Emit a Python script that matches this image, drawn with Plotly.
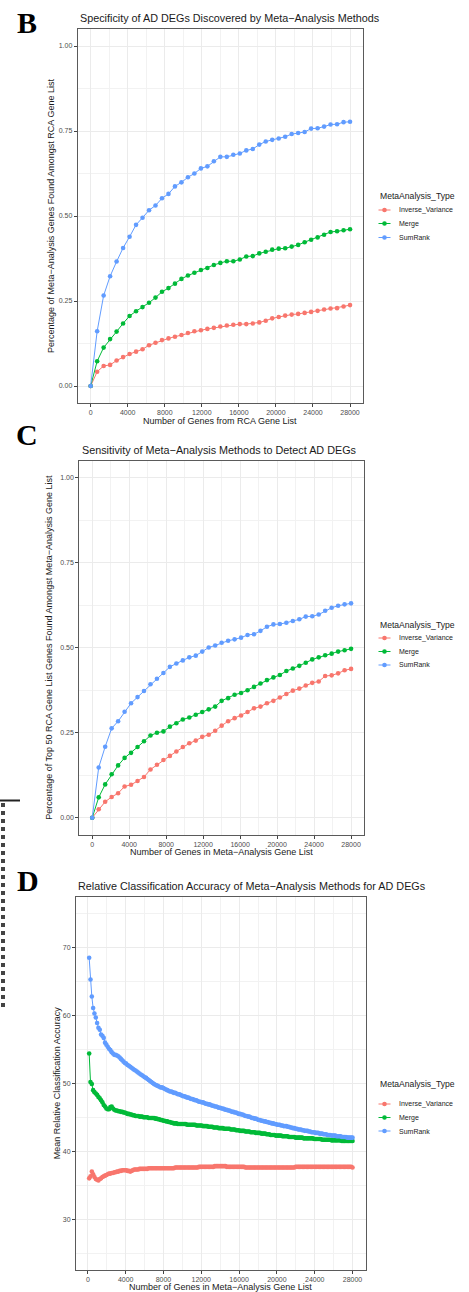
import plotly.graph_objects as go

# ---------------------------------------------------------------- data
methods = ["Inverse_Variance", "Merge", "SumRank"]
colors = ["#F8766D", "#00BA38", "#619CFF"]

# Panel B: specificity vs number of genes taken from the RCA list
genes_rca = list(range(0, 28001, 700))
spec_inverse_variance = [
    0.000, 0.042, 0.059, 0.062, 0.075, 0.085, 0.094, 0.101, 0.108, 0.120,
    0.127, 0.135, 0.140, 0.145, 0.150, 0.156, 0.161, 0.164, 0.168, 0.171,
    0.175, 0.178, 0.180, 0.182, 0.182, 0.184, 0.187, 0.192, 0.199, 0.203,
    0.207, 0.210, 0.212, 0.215, 0.218, 0.221, 0.225, 0.228, 0.229, 0.234,
    0.238]
spec_merge = [
    0.000, 0.073, 0.113, 0.138, 0.160, 0.184, 0.206, 0.220, 0.232, 0.245,
    0.260, 0.277, 0.288, 0.301, 0.315, 0.325, 0.333, 0.341, 0.347, 0.356,
    0.362, 0.367, 0.367, 0.372, 0.381, 0.382, 0.390, 0.395, 0.401, 0.404,
    0.405, 0.410, 0.415, 0.423, 0.430, 0.437, 0.445, 0.453, 0.455, 0.458,
    0.461]
spec_sumrank = [
    0.000, 0.161, 0.266, 0.323, 0.366, 0.406, 0.439, 0.474, 0.495, 0.517,
    0.531, 0.552, 0.565, 0.587, 0.599, 0.614, 0.625, 0.640, 0.646, 0.661,
    0.674, 0.674, 0.680, 0.684, 0.693, 0.697, 0.710, 0.719, 0.724, 0.728,
    0.733, 0.741, 0.744, 0.747, 0.757, 0.758, 0.763, 0.769, 0.770, 0.776,
    0.777]

# Panel C: sensitivity vs number of genes in the meta-analysis list
genes_meta = list(range(0, 28001, 700))
sens_inverse_variance = [
    0.000, 0.025, 0.047, 0.061, 0.072, 0.092, 0.097, 0.108, 0.120, 0.142,
    0.156, 0.170, 0.182, 0.195, 0.208, 0.219, 0.227, 0.238, 0.244, 0.256,
    0.271, 0.284, 0.293, 0.301, 0.311, 0.322, 0.327, 0.337, 0.344, 0.354,
    0.364, 0.374, 0.380, 0.389, 0.397, 0.401, 0.417, 0.419, 0.425, 0.434,
    0.438]
sens_merge = [
    0.000, 0.060, 0.098, 0.128, 0.154, 0.176, 0.191, 0.208, 0.225, 0.242,
    0.250, 0.254, 0.268, 0.278, 0.289, 0.295, 0.303, 0.311, 0.319, 0.327,
    0.344, 0.352, 0.362, 0.367, 0.375, 0.385, 0.395, 0.405, 0.413, 0.420,
    0.432, 0.439, 0.447, 0.456, 0.466, 0.472, 0.478, 0.483, 0.489, 0.493,
    0.497]
sens_sumrank = [
    0.000, 0.148, 0.209, 0.263, 0.284, 0.312, 0.337, 0.355, 0.373, 0.393,
    0.409, 0.426, 0.444, 0.454, 0.463, 0.472, 0.477, 0.489, 0.501, 0.507,
    0.515, 0.521, 0.525, 0.530, 0.538, 0.540, 0.550, 0.562, 0.569, 0.570,
    0.574, 0.579, 0.584, 0.592, 0.593, 0.598, 0.609, 0.618, 0.624, 0.628,
    0.631]

# Panel D: mean relative classification accuracy
genes_acc = list(range(140, 28001, 140))
acc_inverse_variance = [
    36.0, 36.3, 37.0, 36.6, 36.2, 35.9, 35.8, 35.7, 35.9, 36.0,
    36.2, 36.3, 36.4, 36.5, 36.6, 36.7, 36.7, 36.8, 36.8, 36.9,
    36.9, 37.0, 37.0, 37.1, 37.1, 37.2, 37.2, 37.2, 37.2, 37.1,
    37.1, 37.0, 37.1, 37.2, 37.3, 37.3, 37.3, 37.3, 37.4, 37.4,
    37.4, 37.4, 37.4, 37.4, 37.4, 37.5, 37.5, 37.5, 37.5, 37.5,
    37.5, 37.5, 37.5, 37.5, 37.5, 37.5, 37.5, 37.5, 37.5, 37.5,
    37.5, 37.5, 37.5, 37.5, 37.5, 37.6, 37.6, 37.6, 37.6, 37.6,
    37.6, 37.6, 37.6, 37.6, 37.6, 37.6, 37.6, 37.6, 37.6, 37.6,
    37.6, 37.6, 37.6, 37.7, 37.7, 37.7, 37.7, 37.7, 37.7, 37.7,
    37.7, 37.7, 37.7, 37.7, 37.7, 37.8, 37.8, 37.8, 37.8, 37.8,
    37.8, 37.8, 37.8, 37.8, 37.7, 37.7, 37.7, 37.7, 37.7, 37.7,
    37.7, 37.7, 37.7, 37.7, 37.7, 37.7, 37.7, 37.7, 37.6, 37.6,
    37.6, 37.6, 37.6, 37.6, 37.6, 37.6, 37.6, 37.6, 37.6, 37.6,
    37.6, 37.6, 37.6, 37.6, 37.6, 37.6, 37.6, 37.6, 37.6, 37.6,
    37.6, 37.6, 37.6, 37.6, 37.6, 37.6, 37.6, 37.6, 37.6, 37.6,
    37.6, 37.6, 37.6, 37.6, 37.6, 37.6, 37.7, 37.7, 37.7, 37.7,
    37.7, 37.7, 37.7, 37.7, 37.7, 37.7, 37.7, 37.7, 37.7, 37.7,
    37.7, 37.7, 37.7, 37.7, 37.7, 37.7, 37.7, 37.7, 37.7, 37.7,
    37.7, 37.7, 37.7, 37.7, 37.7, 37.7, 37.7, 37.7, 37.7, 37.7,
    37.7, 37.7, 37.7, 37.7, 37.7, 37.7, 37.7, 37.7, 37.7, 37.6]
acc_merge = [
    54.4, 50.2, 49.9, 49.0, 48.7, 48.5, 48.3, 48.0, 47.8, 47.5,
    47.2, 46.8, 46.6, 46.3, 46.2, 46.2, 46.5, 46.6, 46.3, 46.1,
    46.0, 46.0, 45.9, 45.9, 45.8, 45.8, 45.7, 45.7, 45.6, 45.5,
    45.5, 45.4, 45.4, 45.3, 45.3, 45.2, 45.2, 45.2, 45.1, 45.1,
    45.1, 45.0, 45.0, 45.0, 45.0, 44.9, 44.9, 44.9, 44.9, 44.9,
    44.8, 44.8, 44.7, 44.7, 44.6, 44.6, 44.5, 44.5, 44.4, 44.4,
    44.3, 44.3, 44.2, 44.2, 44.1, 44.1, 44.1, 44.0, 44.0, 44.0,
    44.0, 44.0, 44.0, 44.0, 43.9, 43.9, 43.9, 43.9, 43.9, 43.9,
    43.9, 43.8, 43.8, 43.8, 43.8, 43.8, 43.7, 43.7, 43.7, 43.7,
    43.6, 43.6, 43.6, 43.6, 43.5, 43.5, 43.5, 43.5, 43.4, 43.4,
    43.4, 43.4, 43.3, 43.3, 43.3, 43.3, 43.3, 43.2, 43.2, 43.2,
    43.2, 43.1, 43.1, 43.1, 43.0, 43.0, 43.0, 43.0, 42.9, 42.9,
    42.9, 42.9, 42.8, 42.8, 42.8, 42.8, 42.7, 42.7, 42.7, 42.7,
    42.6, 42.6, 42.6, 42.6, 42.5, 42.5, 42.5, 42.4, 42.4, 42.4,
    42.4, 42.3, 42.3, 42.3, 42.3, 42.3, 42.2, 42.2, 42.2, 42.2,
    42.2, 42.1, 42.1, 42.1, 42.1, 42.1, 42.0, 42.0, 42.0, 42.0,
    42.0, 42.0, 41.9, 41.9, 41.9, 41.9, 41.9, 41.9, 41.9, 41.9,
    41.8, 41.8, 41.8, 41.8, 41.8, 41.8, 41.7, 41.7, 41.7, 41.7,
    41.7, 41.7, 41.7, 41.6, 41.6, 41.6, 41.6, 41.6, 41.6, 41.6,
    41.6, 41.5, 41.5, 41.5, 41.5, 41.5, 41.5, 41.5, 41.5, 41.5]
acc_sumrank = [
    68.5, 65.3, 62.8, 61.1, 60.3, 59.7, 58.9, 58.2, 57.9, 57.2,
    57.0, 56.7, 56.0, 55.7, 55.4, 55.1, 54.9, 54.6, 54.4, 54.2,
    54.2, 54.1, 54.0, 53.8, 53.6, 53.4, 53.2, 53.0, 52.9, 52.7,
    52.6, 52.45, 52.3, 52.15, 52.0, 51.9, 51.75, 51.6, 51.45, 51.3,
    51.2, 51.05, 50.9, 50.8, 50.65, 50.5, 50.35, 50.2, 50.05, 49.9,
    49.8, 49.7, 49.6, 49.5, 49.4, 49.4, 49.3, 49.2, 49.1, 49.0,
    48.9, 48.8, 48.8, 48.7, 48.6, 48.6, 48.5, 48.4, 48.4, 48.3,
    48.2, 48.1, 48.1, 48.0, 47.9, 47.9, 47.8, 47.7, 47.7, 47.6,
    47.5, 47.5, 47.4, 47.3, 47.3, 47.2, 47.2, 47.1, 47.0, 47.0,
    46.9, 46.9, 46.8, 46.7, 46.7, 46.6, 46.6, 46.5, 46.4, 46.4,
    46.3, 46.3, 46.2, 46.1, 46.1, 46.0, 46.0, 45.9, 45.8, 45.8,
    45.7, 45.7, 45.6, 45.5, 45.5, 45.4, 45.4, 45.3, 45.2, 45.2,
    45.1, 45.1, 45.0, 44.9, 44.9, 44.8, 44.8, 44.7, 44.6, 44.6,
    44.5, 44.5, 44.4, 44.4, 44.3, 44.3, 44.2, 44.2, 44.1, 44.1,
    44.0, 44.0, 43.9, 43.9, 43.9, 43.8, 43.8, 43.7, 43.7, 43.7,
    43.6, 43.6, 43.5, 43.5, 43.4, 43.4, 43.3, 43.3, 43.2, 43.2,
    43.2, 43.1, 43.1, 43.0, 43.0, 43.0, 42.9, 42.9, 42.8, 42.8,
    42.8, 42.7, 42.7, 42.7, 42.6, 42.6, 42.6, 42.5, 42.5, 42.5,
    42.4, 42.4, 42.4, 42.3, 42.3, 42.3, 42.3, 42.2, 42.2, 42.2,
    42.2, 42.1, 42.1, 42.1, 42.1, 42.0, 42.0, 42.0, 42.0, 42.0]

pct_ticks = [0, 0.25, 0.5, 0.75, 1.0]
pct_labels = ["0.00", "0.25", "0.50", "0.75", "1.00"]
acc_ticks = [30, 40, 50, 60, 70]
gene_ticks = [0, 4000, 8000, 12000, 16000, 20000, 24000, 28000]

panel_letters = ["B", "C", "D"]
titles = [
    "Specificity of AD DEGs Discovered by Meta\u2212Analysis Methods",
    "Sensitivity of Meta\u2212Analysis Methods to Detect AD DEGs",
    "Relative Classification Accuracy of Meta\u2212Analysis Methods for AD DEGs",
]
x_titles = [
    "Number of Genes from RCA Gene List",
    "Number of Genes in Meta\u2212Analysis Gene List",
    "Number of Genes in Meta\u2212Analysis Gene List",
]
y_titles = [
    "Percentage of Meta\u2212Analysis Genes Found Amongst RCA Gene List",
    "Percentage of Top 50 RCA Gene List Genes Found Amongst Meta\u2212Analysis Gene List",
    "Mean Relative Classification Accuracy",
]
legend_title = "MetaAnalysis_Type"

# ---------------------------------------------------------------- layout helpers
W, H = 469, 1292
FONT = "Liberation Sans, Arial, Helvetica, sans-serif"


def px_x(v):
    return v / W


def px_y(v):
    return 1 - v / H


# panel boxes in pixels: (left, right, top, bottom)
boxes = [
    (77.7, 363.0, 29.0, 403.0),
    (79.3, 364.0, 461.0, 834.7),
    (76.0, 365.7, 896.7, 1270.0),
]

fig = go.Figure()

panel_series = [
    (genes_rca, [spec_inverse_variance, spec_merge, spec_sumrank]),
    (genes_meta, [sens_inverse_variance, sens_merge, sens_sumrank]),
    (genes_acc, [acc_inverse_variance, acc_merge, acc_sumrank]),
]

MARKER = 4.6

for p, (xs, ys_list) in enumerate(panel_series):
    suffix = "" if p == 0 else str(p + 1)
    for name, col, ys in zip(methods, colors, ys_list):
        fig.add_trace(go.Scatter(
            x=xs, y=ys, name=name, mode="lines+markers",
            line=dict(color=col, width=1),
            marker=dict(color=col, size=MARKER),
            xaxis="x" + suffix, yaxis="y" + suffix,
            showlegend=False,
        ))

axis_common = dict(
    showline=True, linecolor="#5a5a5a", linewidth=1, mirror=True,
    ticks="outside", ticklen=3, tickwidth=1, tickcolor="#444444",
    tickfont=dict(family=FONT, size=7, color="#4D4D4D"),
    showgrid=True, gridcolor="#EBEBEB", gridwidth=1, zeroline=False,
    layer="above traces",
)

layout = dict(
    width=W, height=H, margin=dict(l=0, r=0, t=0, b=0),
    paper_bgcolor="white", plot_bgcolor="white",
    font=dict(family=FONT, color="#1a1a1a"),
    showlegend=False,
)

for p, (l, r, t, b) in enumerate(boxes):
    suffix = "" if p == 0 else str(p + 1)
    xs = panel_series[p][0]
    span = max(xs) - min(xs)
    xr = [min(xs) - 0.05 * span, max(xs) + 0.05 * span]
    xa = dict(axis_common, domain=[px_x(l), px_x(r)], range=xr,
              tickvals=gene_ticks, ticktext=[str(v) for v in gene_ticks],
              minor=dict(dtick=2000, tick0=0, showgrid=True,
                         gridcolor="#F2F2F2", gridwidth=0.7),
              anchor="y" + suffix)
    if p < 2:
        ya = dict(axis_common, domain=[px_y(b), px_y(t)], range=[-0.05, 1.05],
                  tickvals=pct_ticks, ticktext=pct_labels,
                  minor=dict(dtick=0.125, tick0=0, showgrid=True,
                             gridcolor="#F2F2F2", gridwidth=0.7),
                  anchor="x" + suffix)
    else:
        ya = dict(axis_common, domain=[px_y(b), px_y(t)], range=[22.5, 77.5],
                  tickvals=acc_ticks, ticktext=[str(v) for v in acc_ticks],
                  minor=dict(dtick=5, tick0=25, showgrid=True,
                             gridcolor="#F2F2F2", gridwidth=0.7),
                  anchor="x" + suffix)
    layout["xaxis" + suffix] = xa
    layout["yaxis" + suffix] = ya

fig.update_layout(**layout)

ann = []
shapes = []
# panel letters
letter_pos = [(27, 23), (27, 434), (27.5, 880)]
for letter, (cx, cy) in zip(panel_letters, letter_pos):
    ann.append(dict(text="<b>%s</b>" % letter, x=px_x(cx), y=px_y(cy),
                    xref="paper", yref="paper", xanchor="center", yanchor="middle",
                    showarrow=False,
                    font=dict(family="Liberation Serif, Times New Roman, serif",
                              size=30, color="black")))
# plot titles
title_pos = [(77.7, 18), (80, 450.5), (76, 886)]
for text, (lx, cy) in zip(titles, title_pos):
    ann.append(dict(text=text, x=px_x(lx), y=px_y(cy), xref="paper", yref="paper",
                    xanchor="left", yanchor="middle", showarrow=False,
                    font=dict(family=FONT, size=10.8, color="#1a1a1a")))
# x axis titles
xt_pos = [421, 852, 1287]
for text, (l, r, t, b), cy in zip(x_titles, boxes, xt_pos):
    ann.append(dict(text=text, x=px_x((l + r) / 2), y=px_y(cy), xref="paper", yref="paper",
                    xanchor="center", yanchor="middle", showarrow=False,
                    font=dict(family=FONT, size=9, color="#1a1a1a")))
# y axis titles
yt_x = [51, 49, 57]
for text, (l, r, t, b), cx in zip(y_titles, boxes, yt_x):
    ann.append(dict(text=text, x=px_x(cx), y=px_y((t + b) / 2), xref="paper", yref="paper",
                    xanchor="center", yanchor="middle", textangle=-90, showarrow=False,
                    font=dict(family=FONT, size=9, color="#1a1a1a")))

# legend blocks: title row then one key per method
legend_rows = [
    (196, [210, 223.5, 237.5]),
    (625, [638, 651.5, 665]),
    (1084, [1104, 1117.5, 1131]),
]
KEY_L, KEY_R, TEXT_X, TITLE_X = 378.5, 390.5, 397, 378
for title_y, rows in legend_rows:
    ann.append(dict(text=legend_title, x=px_x(TITLE_X), y=px_y(title_y),
                    xref="paper", yref="paper", xanchor="left", yanchor="middle",
                    showarrow=False, font=dict(family=FONT, size=8.6, color="#1a1a1a")))
    for name, col, ry in zip(methods, colors, rows):
        shapes.append(dict(type="line", xref="paper", yref="paper",
                           x0=px_x(KEY_L), x1=px_x(KEY_R), y0=px_y(ry), y1=px_y(ry),
                           line=dict(color=col, width=1)))
        shapes.append(dict(type="circle", xref="paper", yref="paper",
                           xsizemode="pixel", ysizemode="pixel",
                           xanchor=px_x((KEY_L + KEY_R) / 2), yanchor=px_y(ry),
                           x0=-MARKER / 2, x1=MARKER / 2, y0=-MARKER / 2, y1=MARKER / 2,
                           fillcolor=col, line=dict(width=0)))
        ann.append(dict(text=name, x=px_x(TEXT_X), y=px_y(ry), xref="paper", yref="paper",
                        xanchor="left", yanchor="middle", showarrow=False,
                        font=dict(family=FONT, size=7, color="#1a1a1a")))

# frame fragments along the left margin
shapes.append(dict(type="line", xref="paper", yref="paper",
                   x0=0, x1=px_x(20), y0=px_y(800.5), y1=px_y(800.5),
                   line=dict(color="#222222", width=2)))
shapes.append(dict(type="line", xref="paper", yref="paper",
                   x0=px_x(3), x1=px_x(3), y0=px_y(803), y1=px_y(1008),
                   line=dict(color="#444444", width=4, dash="dot")))

fig.update_layout(annotations=ann, shapes=shapes)

fig.write_html("out.html")
